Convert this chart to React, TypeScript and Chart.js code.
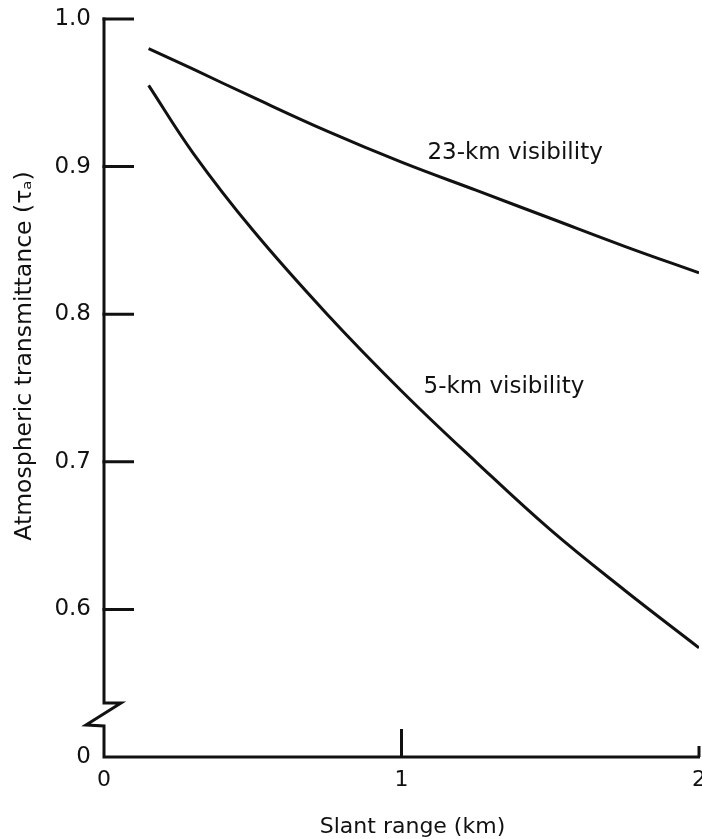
import { useEffect, useRef } from "react";
import { Chart, registerables } from "chart.js";

Chart.register(...registerables);

// Slant range (km) sample positions
const slantRange = [0.15, 0.3, 0.5, 0.75, 1.0, 1.25, 1.5, 1.75, 2.0];
// Atmospheric transmittance, 23-km visibility
const vis23km = [0.98, 0.966, 0.947, 0.924, 0.903, 0.884, 0.865, 0.846, 0.828];
// Atmospheric transmittance, 5-km visibility
const vis5km = [0.955, 0.909, 0.857, 0.8, 0.748, 0.7, 0.654, 0.613, 0.574];

const seriesNames = ["23-km visibility", "5-km visibility"];

// Axis ticks (the lowest y tick stands for the broken-axis zero)
const yTickValues = [0.5, 0.6, 0.7, 0.8, 0.9, 1.0];
const yTickLabels = ["0", "0.6", "0.7", "0.8", "0.9", "1.0"];
const xTickValues = [0, 1, 2];
const xTickLabels = ["0", "1", "2"];

const xTitle = "Slant range (km)";
const yTitle = "Atmospheric transmittance (τₐ)";

const FONT = "'DejaVu Sans', 'Liberation Sans', sans-serif";
const INK = "#111111";

const decorPlugin = {
  id: "decor",
  afterDraw(chart: any) {
    const { ctx, chartArea, scales } = chart;
    const { left, right, top, bottom } = chartArea;
    const xs = scales.x;
    const ys = scales.y;
    ctx.save();
    ctx.strokeStyle = INK;
    ctx.lineWidth = 3;
    ctx.lineJoin = "miter";
    ctx.lineCap = "butt";

    // y axis with break zig-zag, then x axis
    const bTop = bottom - 54;
    const bBot = bottom - 31;
    ctx.beginPath();
    ctx.moveTo(left, top - 1.5);
    ctx.lineTo(left, bTop);
    ctx.lineTo(left + 17, bTop);
    ctx.lineTo(left - 18, bBot - 1);
    ctx.lineTo(left, bBot);
    ctx.lineTo(left, bottom);
    ctx.lineTo(right + 1, bottom);
    ctx.stroke();

    // inward y ticks
    ctx.beginPath();
    ys.ticks.forEach((t: any) => {
      if (t.value <= ys.min) return;
      const py = ys.getPixelForValue(t.value);
      ctx.moveTo(left - 1.5, py);
      ctx.lineTo(left + 30, py);
    });
    // inward x ticks
    xs.ticks.forEach((t: any) => {
      if (t.value <= xs.min) return;
      const px = xs.getPixelForValue(t.value);
      const len = t.value >= xs.max ? 11 : 28;
      ctx.moveTo(px, bottom);
      ctx.lineTo(px, bottom - len);
    });
    ctx.stroke();

    // curve labels
    ctx.fillStyle = INK;
    ctx.font = `23px ${FONT}`;
    ctx.textAlign = "left";
    ctx.textBaseline = "alphabetic";
    ctx.fillText(seriesNames[0], xs.getPixelForValue(1.087), ys.getPixelForValue(0.905));
    ctx.fillText(seriesNames[1], xs.getPixelForValue(1.074), ys.getPixelForValue(0.7464));

    // x title
    ctx.font = `22px ${FONT}`;
    ctx.textAlign = "center";
    ctx.fillText(xTitle, (left + right) / 2 + 11, chart.height - 6);

    // y title
    ctx.translate(25, (top + bottom) / 2 - 32);
    ctx.rotate(-Math.PI / 2);
    ctx.font = `23.5px ${FONT}`;
    ctx.textAlign = "center";
    ctx.textBaseline = "middle";
    ctx.fillText(yTitle, 0, 0);
    ctx.restore();
  },
};

export default function App() {
  const ref = useRef<HTMLCanvasElement | null>(null);

  useEffect(() => {
    document.body.style.margin = "0";
    if (!ref.current) return;
    const chart = new Chart(ref.current, {
      type: "line",
      data: {
        datasets: [
          {
            label: seriesNames[0],
            data: slantRange.map((x, i) => ({ x, y: vis23km[i] })),
            borderColor: INK,
            borderWidth: 3,
            pointRadius: 0,
            tension: 0.4,
            fill: false,
          },
          {
            label: seriesNames[1],
            data: slantRange.map((x, i) => ({ x, y: vis5km[i] })),
            borderColor: INK,
            borderWidth: 3,
            pointRadius: 0,
            tension: 0.4,
            fill: false,
          },
        ],
      },
      options: {
        animation: false,
        responsive: false,
        layout: { padding: { top: 19, right: 3, left: 0, bottom: 0 } },
        plugins: {
          legend: { display: false },
          tooltip: { enabled: false },
        },
        scales: {
          x: {
            type: "linear",
            min: 0,
            max: 2,
            grid: { display: false, drawTicks: false },
            border: { display: false },
            afterBuildTicks: (s: any) => {
              s.ticks = xTickValues.map((v) => ({ value: v }));
            },
            afterFit: (s: any) => {
              s.height = 82;
              s.paddingLeft = 0;
              s.paddingRight = 0;
            },
            ticks: {
              padding: 10,
              color: INK,
              maxRotation: 0,
              autoSkip: false,
              font: { family: FONT, size: 22 },
              callback: (v: any) => {
                const i = xTickValues.indexOf(Number(v));
                return i >= 0 ? xTickLabels[i] : "";
              },
            },
          },
          y: {
            type: "linear",
            min: 0.5,
            max: 1.0,
            grid: { display: false, drawTicks: false },
            border: { display: false },
            afterBuildTicks: (s: any) => {
              s.ticks = yTickValues.map((v) => ({ value: v }));
            },
            afterFit: (s: any) => {
              s.width = 104;
              s.paddingTop = 0;
              s.paddingBottom = 0;
            },
            ticks: {
              padding: 13,
              color: INK,
              autoSkip: false,
              font: { family: FONT, size: 23 },
              callback: (v: any) => {
                const i = yTickValues.findIndex((t) => Math.abs(t - Number(v)) < 1e-9);
                return i >= 0 ? yTickLabels[i] : "";
              },
            },
          },
        },
      },
      plugins: [decorPlugin],
    } as any);
    return () => chart.destroy();
  }, []);

  return <canvas ref={ref} width={702} height={839} style={{ display: "block" }} />;
}
